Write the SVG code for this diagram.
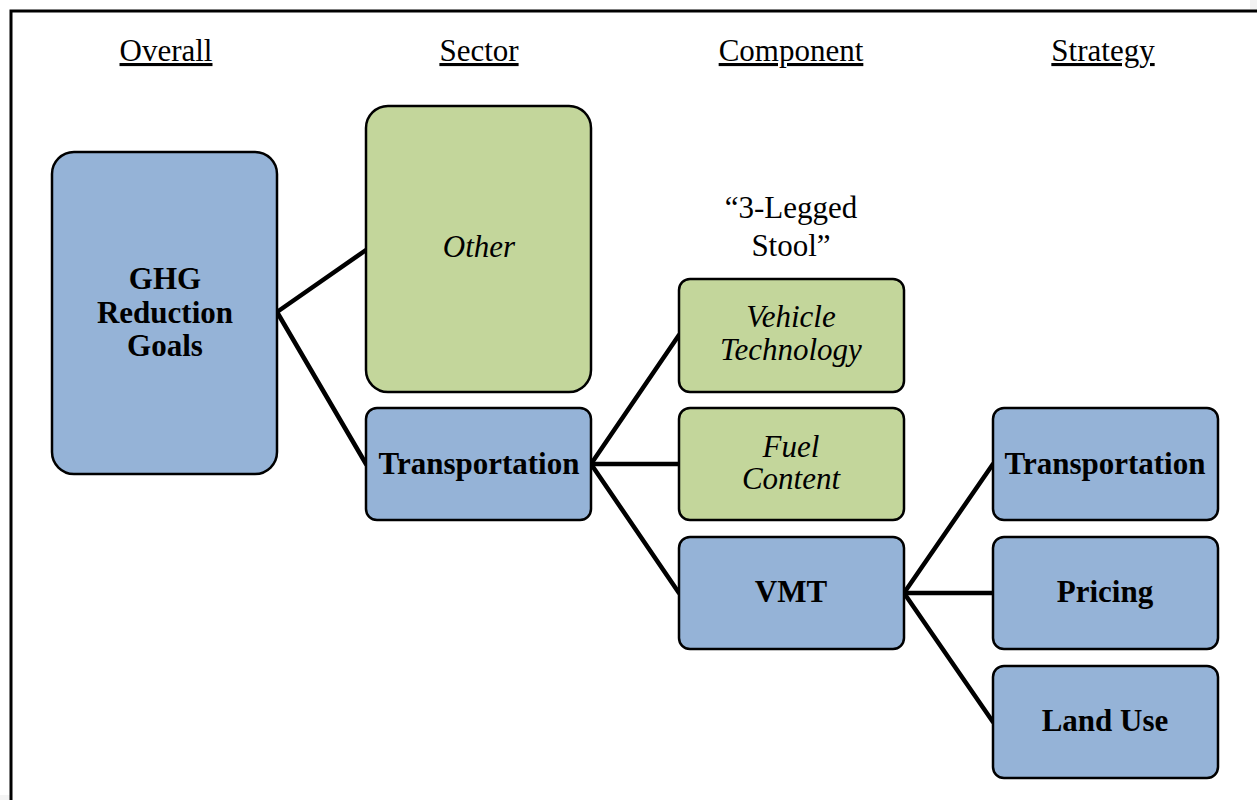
<svg xmlns="http://www.w3.org/2000/svg" width="1257" height="800" viewBox="0 0 1257 800">
<style>
.hd{font-family:"Liberation Serif","Times New Roman",serif;font-size:31px;text-anchor:middle;text-decoration:underline;fill:#000}
.b{font-family:"Liberation Serif","Times New Roman",serif;font-size:31px;font-weight:bold;text-anchor:middle;fill:#000}
.i{font-family:"Liberation Serif","Times New Roman",serif;font-size:31px;font-style:italic;text-anchor:middle;fill:#000}
.n{font-family:"Liberation Serif","Times New Roman",serif;font-size:31px;text-anchor:middle;fill:#000}
.blue{fill:#95B3D7;stroke:#000;stroke-width:2.5}
.green{fill:#C3D69B;stroke:#000;stroke-width:2.5}
.c{stroke:#000;stroke-width:4.5;fill:none;stroke-linecap:round}
</style>
<rect x="0" y="0" width="1257" height="800" fill="#ffffff"/>
<rect x="1250" y="0" width="7" height="800" fill="#f2f2f2"/>
<rect x="0" y="795" width="1257" height="5" fill="#f4f4f4"/>
<rect x="11" y="11" width="1260" height="800" fill="#ffffff" stroke="#000" stroke-width="3"/>
<g id="headers">
<text class="hd" x="166" y="61">Overall</text>
<text class="hd" x="479" y="61">Sector</text>
<text class="hd" x="791" y="61">Component</text>
<text class="hd" x="1103" y="61">Strategy</text>
</g>
<g id="connectors">
<line class="c" x1="277" y1="312" x2="366" y2="250"/>
<line class="c" x1="277" y1="312" x2="366" y2="464"/>
<line class="c" x1="591" y1="464" x2="679" y2="335"/>
<line class="c" x1="591" y1="464" x2="679" y2="464"/>
<line class="c" x1="591" y1="464" x2="679" y2="593"/>
<line class="c" x1="904" y1="593" x2="993" y2="464"/>
<line class="c" x1="904" y1="593" x2="993" y2="593"/>
<line class="c" x1="904" y1="593" x2="993" y2="722"/>
</g>
<g id="ghg">
<rect class="blue" x="52" y="152" width="225" height="322" rx="22"/>
<text class="b" x="165" y="289">GHG</text>
<text class="b" x="165" y="323">Reduction</text>
<text class="b" x="165" y="356">Goals</text>
</g>
<g id="other">
<rect class="green" x="366" y="106" width="225" height="286" rx="22"/>
<text class="i" x="479" y="257">Other</text>
</g>
<g id="transportation-sector">
<rect class="blue" x="366" y="408" width="225" height="112" rx="11"/>
<text class="b" x="479" y="474">Transportation</text>
</g>
<g id="stool-label">
<text class="n" x="791" y="218">“3-Legged</text>
<text class="n" x="791" y="256">Stool”</text>
</g>
<g id="vehicle-technology">
<rect class="green" x="679" y="279" width="225" height="113" rx="11"/>
<text class="i" x="791" y="327">Vehicle</text>
<text class="i" x="791" y="360">Technology</text>
</g>
<g id="fuel-content">
<rect class="green" x="679" y="408" width="225" height="112" rx="11"/>
<text class="i" x="791" y="457">Fuel</text>
<text class="i" x="791" y="489">Content</text>
</g>
<g id="vmt">
<rect class="blue" x="679" y="537" width="225" height="112" rx="11"/>
<text class="b" x="791" y="602">VMT</text>
</g>
<g id="transportation-strategy">
<rect class="blue" x="993" y="408" width="225" height="112" rx="11"/>
<text class="b" x="1105" y="474">Transportation</text>
</g>
<g id="pricing">
<rect class="blue" x="993" y="537" width="225" height="112" rx="11"/>
<text class="b" x="1105" y="602">Pricing</text>
</g>
<g id="land-use">
<rect class="blue" x="993" y="666" width="225" height="112" rx="11"/>
<text class="b" x="1105" y="731">Land Use</text>
</g>
</svg>
